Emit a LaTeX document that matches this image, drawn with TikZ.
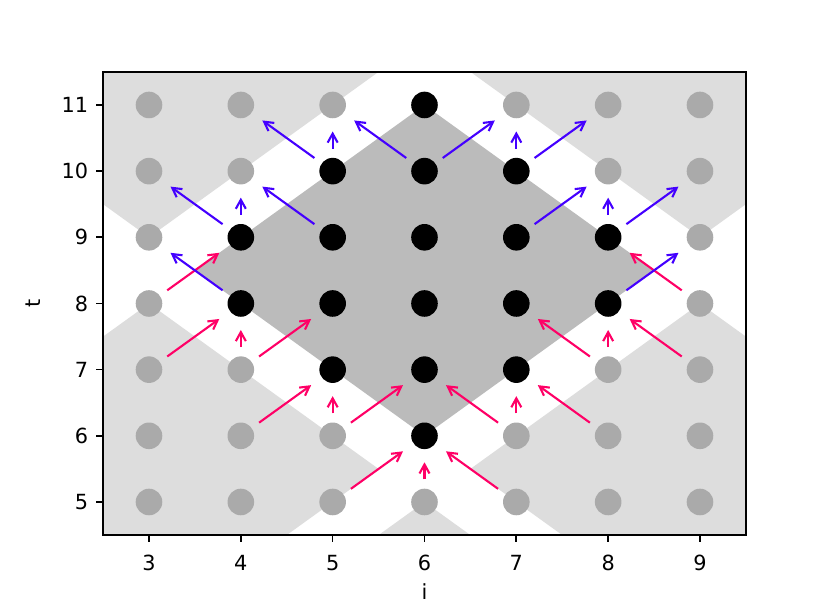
\documentclass[tikz,border=0pt]{standalone}
\usepackage{fontspec}
\setmainfont{DejaVu Sans}
\usetikzlibrary{arrows.meta}
\definecolor{darkreg}{HTML}{BBBBBB}
\definecolor{lightreg}{HTML}{DDDDDD}
\definecolor{graypt}{HTML}{AAAAAA}
\definecolor{pinkc}{HTML}{FF0066}
\definecolor{bluec}{HTML}{4400FF}
\begin{document}
\begin{tikzpicture}[x=45.915pt, y=33.085pt,
  font=\fontsize{10.42pt}{12pt}\selectfont,
  dotbase/.style={circle, inner sep=0pt, outer sep=0pt, minimum size=13.3pt},
  blackdot/.style={dotbase, fill=black},
  graydot/.style={dotbase, fill=graypt},
  arr/.style={line width=1.05pt, -{Straight Barb[length=4.5pt,width=5pt]}, shorten <=4.6pt, shorten >=6.6pt},
  inarr/.style={arr, draw=pinkc},
  outarr/.style={arr, draw=bluec},
  lightfill/.style={fill=lightreg},
  darkfill/.style={fill=darkreg},
  tickline/.style={line width=0.83pt},
  ticklab/.style={inner sep=0pt}]
\useasboundingbox (1.3775,3.4736) rectangle (10.405,12.5865);
% background regions
\fill[darkfill] (6,6) -- (3.5,8.5) -- (6,11) -- (8.5,8.5) -- cycle;
\fill[lightfill] (2.5,9.5) -- (3,9) -- (5.5,11.5) -- (2.5,11.5) -- cycle;
\fill[lightfill] (6.5,11.5) -- (9,9) -- (9.5,9.5) -- (9.5,11.5) -- cycle;
\fill[lightfill] (2.5,7.5) -- (3,8) -- (5.5,5.5) -- (4.5,4.5) -- (2.5,4.5) -- cycle;
\fill[lightfill] (5.5,4.5) -- (6,5) -- (6.5,4.5) -- cycle;
\fill[lightfill] (9.5,7.5) -- (9,8) -- (6.5,5.5) -- (7.5,4.5) -- (9.5,4.5) -- cycle;
% dots
\foreach \i in {3,...,9}{
  \foreach \t in {5,...,11}{
    \pgfmathtruncatemacro{\d}{abs(\i-6)}
    \pgfmathtruncatemacro{\m}{min(\t-6,11-\t)}
    \ifnum\d>\m
      \node[graydot] (p-\i-\t) at (\i,\t) {};
    \else
      \node[blackdot] (p-\i-\t) at (\i,\t) {};
    \fi
  }
}
% incoming arrows
\foreach \a/\b in {5-5/6-6, 6-5/6-6, 7-5/6-6,
  4-6/5-7, 5-6/5-7, 5-6/6-7, 7-6/6-7, 7-6/7-7, 8-6/7-7,
  3-7/4-8, 4-7/4-8, 4-7/5-8, 8-7/7-8, 8-7/8-8, 9-7/8-8,
  3-8/4-9, 9-8/8-9}
  \draw[inarr] (p-\a) -- (p-\b);
% outgoing arrows
\foreach \a/\b in {4-8/3-9, 8-8/9-9,
  4-9/3-10, 4-9/4-10, 5-9/4-10, 7-9/8-10, 8-9/8-10, 8-9/9-10,
  5-10/4-11, 5-10/5-11, 6-10/5-11, 6-10/7-11, 7-10/7-11, 7-10/8-11}
  \draw[outarr] (p-\a) -- (p-\b);
% axes frame
\draw[tickline] (2.5,4.5) rectangle (9.5,11.5);
\foreach \i in {3,...,9}{
  \draw[tickline] (\i,4.5) -- ++(0pt,-3.65pt);
  \node[ticklab, anchor=base, yshift=-17.5pt] (xl-\i) at (\i,4.5) {\i};
}
\foreach \t in {5,...,11}{
  \draw[tickline] (2.5,\t) -- ++(-3.65pt,0pt);
  \node[ticklab, anchor=base east, xshift=-7.3pt, yshift=-3.8pt] (yl-\t) at (2.5,\t) {\t};
}
\node[ticklab, anchor=base, yshift=-32pt] (xlabel) at (6,4.5) {i};
\node[ticklab, anchor=center, rotate=90] (ylabel) at ([xshift=-35pt]2.5,8) {t};
\end{tikzpicture}
\end{document}
